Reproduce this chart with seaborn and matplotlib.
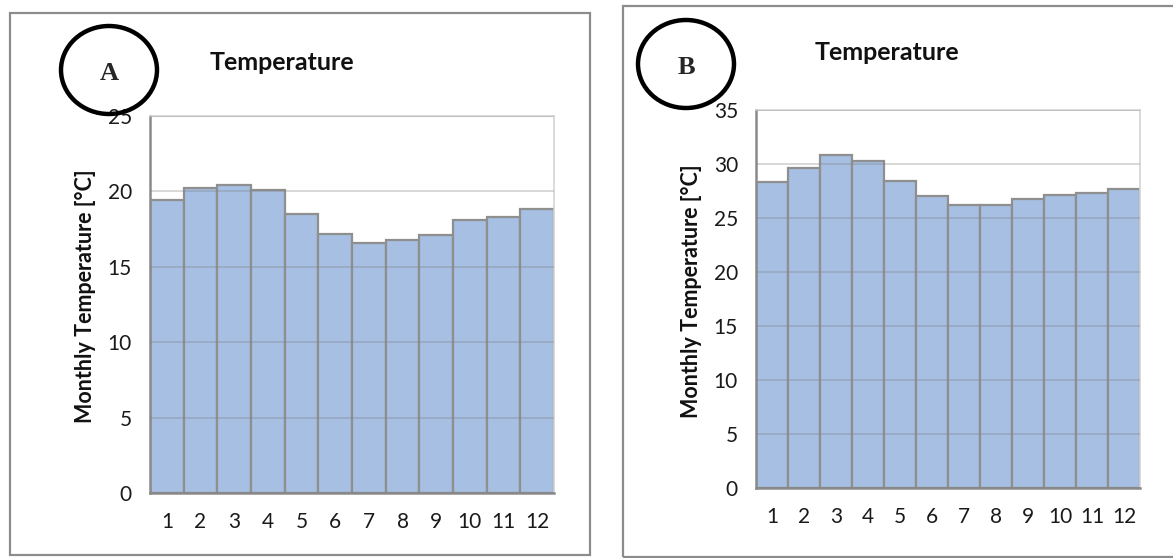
import numpy as np
import pandas as pd
import matplotlib
matplotlib.use("Agg")
import matplotlib.pyplot as plt
import seaborn as sns
from matplotlib.patches import Ellipse, Rectangle

# Monthly temperatures
months = [str(m) for m in range(1, 13)]
temp_a = [19.4, 20.2, 20.4, 20.1, 18.5, 17.2, 16.6, 16.8, 17.1, 18.1, 18.3, 18.8]
temp_b = [28.3, 29.6, 30.8, 30.3, 28.4, 27.0, 26.2, 26.2, 26.8, 27.1, 27.3, 27.7]
panel_labels = ["A", "B"]
y_max = [25, 35]
title = "Temperature"
ylabel = "Monthly Temperature [°C]"

sns.set_style("white")
plt.rcParams["font.family"] = ["Lato", "DejaVu Sans"]

W, H = 1173, 558
fig = plt.figure(figsize=(W / 100, H / 100), dpi=100)


def px(x0, y0, x1, y1):
    # pixel box (top-left origin) -> figure fraction [left, bottom, width, height]
    return [x0 / W, 1 - y1 / H, (x1 - x0) / W, (y1 - y0) / H]


bar_color = "#a6bfe2"
edge_color = "#8f8f8f"
axis_color = "#8a8a8a"

panels = [
    dict(temps=temp_a, box=(150, 116, 554, 493), frame=(10, 13, 590, 555),
         title_xy=(282, 62), ylab_x=86, circle=(109, 70)),
    dict(temps=temp_b, box=(756, 110, 1140, 488), frame=(623, 6, 1185, 557),
         title_xy=(887, 52), ylab_x=692, circle=(686, 64)),
]

for i, p in enumerate(panels):
    # outer panel frame
    fx0, fy0, fx1, fy1 = p["frame"]
    fig.patches.append(Rectangle((fx0 / W, 1 - fy1 / H), (fx1 - fx0) / W, (fy1 - fy0) / H,
                                 transform=fig.transFigure, fill=False,
                                 edgecolor="#8c8c8c", linewidth=1.6))

    ax = fig.add_axes(px(*p["box"]))
    df = pd.DataFrame({"month": months, "temp": p["temps"]})
    sns.barplot(data=df, x="month", y="temp", color=bar_color, width=1.0,
                edgecolor=edge_color, linewidth=1.6, saturation=1, ax=ax)
    ax.set_xlim(-0.5, 11.5)
    ax.set_ylim(0, y_max[i])
    ax.set_yticks(np.arange(0, y_max[i] + 1, 5))
    ax.yaxis.grid(True, color="#7f7f7f", alpha=0.35, linewidth=1.2)
    ax.set_axisbelow(False)
    ax.set_xlabel("")
    ax.set_ylabel("")

    # category boundaries carry the tick marks, labels sit at the centres
    ax.set_xticks(np.arange(-0.5, 12, 1), minor=True)
    ax.tick_params(axis="x", which="major", length=0, pad=14, labelsize=15, labelcolor="#1a1a1a")
    ax.tick_params(axis="x", which="minor", length=8, width=1.6, color=axis_color, direction="out")
    ax.tick_params(axis="y", length=8, width=1.6, color=axis_color, direction="out",
                   pad=5, labelsize=15, labelcolor="#1a1a1a")

    for s in ["left", "bottom"]:
        ax.spines[s].set_color(axis_color)
        ax.spines[s].set_linewidth(1.8)
    for s in ["top", "right"]:
        ax.spines[s].set_visible(True)
        ax.spines[s].set_color("#d4d4d4")
        ax.spines[s].set_linewidth(1.2)

    tx, ty = p["title_xy"]
    fig.text(tx / W, 1 - ty / H, title, ha="center", va="center",
             fontsize=18, fontweight="bold", color="#111111")

    bx0, by0, bx1, by1 = p["box"]
    fig.text(p["ylab_x"] / W, 1 - ((by0 + by1) / 2 - 8) / H, ylabel, rotation=90,
             ha="center", va="center", fontsize=15.5, fontweight="bold", color="#111111")

    cx, cy = p["circle"]
    fig.patches.append(Ellipse((cx / W, 1 - cy / H), 96 / W, 88 / H,
                               transform=fig.transFigure, fill=False,
                               edgecolor="black", linewidth=3.2))
    fig.text(cx / W, 1 - (cy + 3) / H, panel_labels[i], ha="center", va="center",
             fontsize=19, fontweight="bold", family="Liberation Serif")

fig.savefig("out.png", dpi=100)
